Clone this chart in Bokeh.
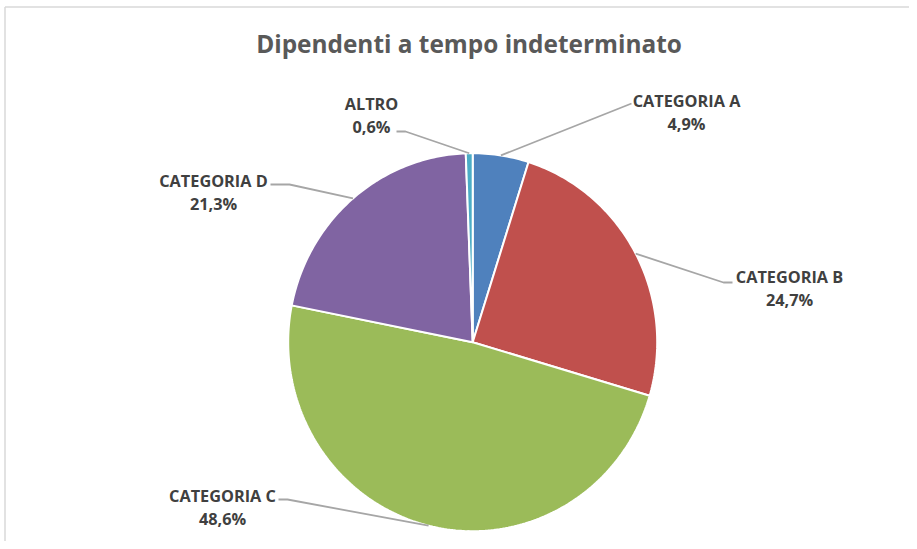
import numpy as np
from bokeh.plotting import figure
from bokeh.models import Range1d
from bokeh.core.properties import value
from bokeh.embed import file_html
from bokeh.resources import INLINE

# ---- data ----
categories = ["CATEGORIA A", "CATEGORIA B", "CATEGORIA C", "CATEGORIA D", "ALTRO"]
shares = [4.9, 24.7, 48.6, 21.3, 0.6]
colors = ["#4F81BD", "#C0504D", "#9BBB59", "#8064A2", "#4BACC6"]
title_text = "Dipendenti a tempo indeterminato"

# ---- layout (pixel coordinates of the picture) ----
W, H = 909, 541
CX, CY, RX, RY = 472.2, 341.7, 184.5, 189.0
# label centre (x, y of first line), elbow point, label-side end of leader
label_pos = {
    "CATEGORIA A": (686, 100, (631, 103), (631, 103)),
    "CATEGORIA B": (789, 276, (723, 282), (732, 282)),
    "CATEGORIA C": (222, 495, (287, 499), (278, 499)),
    "CATEGORIA D": (213, 180, (289, 184), (270, 184)),
    "ALTRO": (371, 103, (405, 131), (396, 131)),
}
LINE_GAP = 23

p = figure(width=W, height=H, output_backend="svg", toolbar_location=None,
           x_range=Range1d(0, W), y_range=Range1d(H, 0),
           min_border=0, outline_line_color=None)
p.axis.visible = False
p.grid.visible = False
p.background_fill_color = "white"
p.border_fill_color = "white"

# chart border (top and left visible parts)
p.segment(x0=[4.5, 4.5], y0=[6.5, 6.5], x1=[W, 4.5], y1=[6.5, H],
          line_color="#D9D9D9", line_width=1.5)

# ---- pie slices ----
total = sum(shares)
fr = np.array(shares) / total
ends = np.cumsum(fr)
starts = ends - fr
xs, ys = [], []
for s, e in zip(starts, ends):
    th = np.linspace(2 * np.pi * s, 2 * np.pi * e, max(8, int(400 * (e - s))))
    xs.append([CX] + list(CX + RX * np.sin(th)))
    ys.append([CY] + list(CY - RY * np.cos(th)))
p.patches(xs=xs, ys=ys, fill_color=colors, line_color="white", line_width=2)

# ---- leader lines and labels ----
mids = 2 * np.pi * (starts + ends) / 2
lx, ly = [], []
t1x, t1y, t1 = [], [], []
t2x, t2y, t2 = [], [], []
for cat, v, m in zip(categories, shares, mids):
    tx, ty, elbow, tail = label_pos[cat]
    px, py = CX + RX * np.sin(m), CY - RY * np.cos(m)
    lx.append([px, elbow[0], tail[0]])
    ly.append([py, elbow[1], tail[1]])
    t1x.append(tx); t1y.append(ty); t1.append(cat)
    t2x.append(tx); t2y.append(ty + LINE_GAP); t2.append(f"{v:.1f}".replace(".", ",") + "%")

p.multi_line(xs=lx, ys=ly, line_color="#A6A6A6", line_width=1.8)

for X, Y, T in ((t1x, t1y, t1), (t2x, t2y, t2)):
    p.text(x=X, y=Y, text=T, text_font=value("Open Sans"), text_font_style="bold",
           text_font_size="16.3px", text_color="#404040",
           text_align="center", text_baseline="middle")

p.text(x=[468.5], y=[43], text=[title_text], text_font=value("Open Sans"),
       text_font_style="bold", text_font_size="24.4px", text_color="#595959",
       text_align="center", text_baseline="middle")

open("out.html", "w").write(file_html(p, INLINE))
